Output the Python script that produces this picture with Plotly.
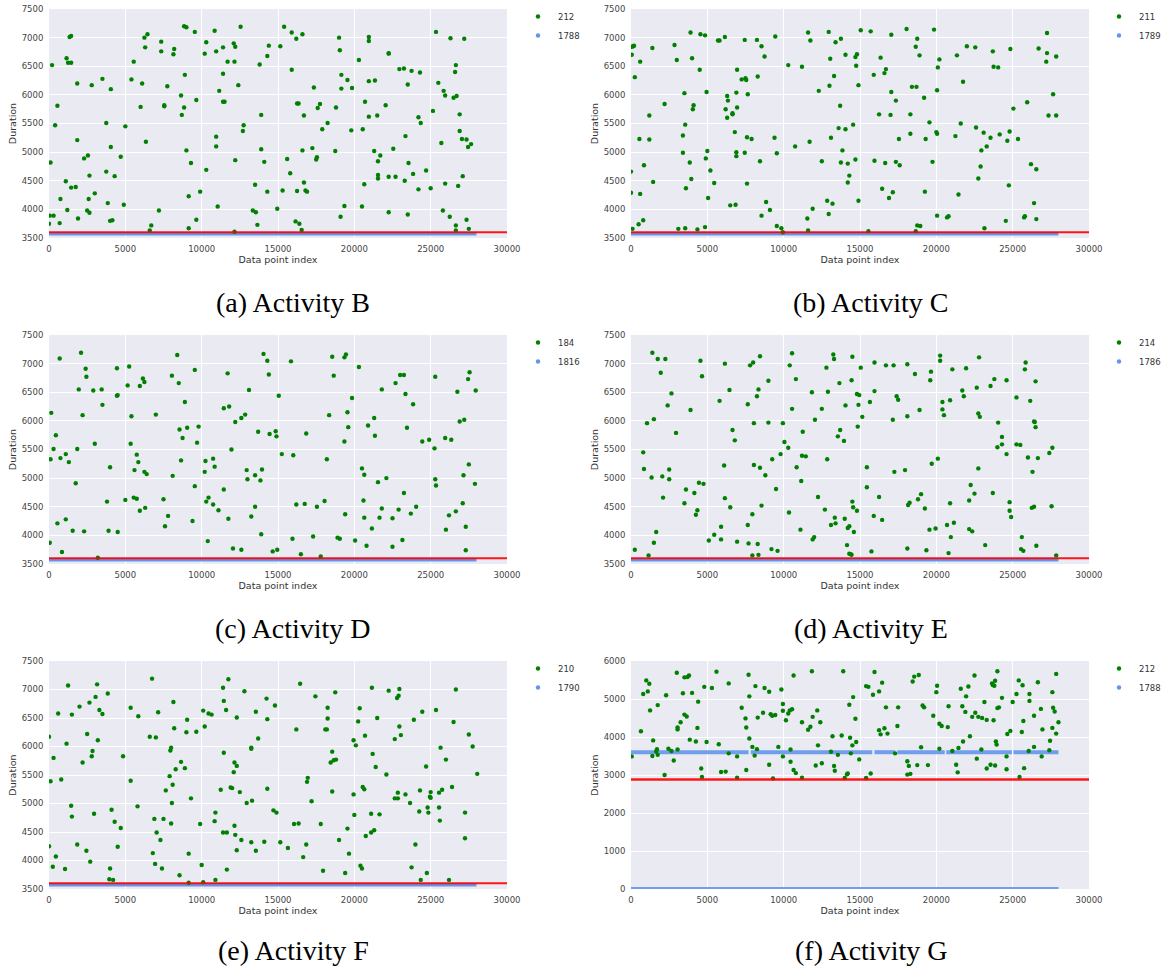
import plotly.graph_objects as go
from plotly.subplots import make_subplots

# ---------------- data ----------------
captions = ["(a) Activity B", "(b) Activity C", "(c) Activity D",
            "(d) Activity E", "(e) Activity F", "(f) Activity G"]
green_counts = ["212", "211", "184", "214", "210", "212"]
blue_counts = ["1788", "1789", "1816", "1786", "1790", "1788"]
threshold = [3600, 3600, 3600, 3600, 3600, 2880]
x_ticks = [0, 5000, 10000, 15000, 20000, 25000, 30000]
y_ticks_main = [3500, 4000, 4500, 5000, 5500, 6000, 6500, 7000, 7500]
y_ticks_g = [0, 1000, 2000, 3000, 4000, 5000, 6000]

# blue (majority) points: they form a continuous band; runs given as start/end index
blue_idx_std = [0, 28000]
blue_dur_std = [3575, 3575]
blue_idx_G = [0, 7700, None, 7850, 15800, None, 15950, 17300, None, 17450, 20550,
              None, 20650, 24950, None, 25050, 28000, None, 0, 28000]
blue_dur_G = [3600, 3600, None, 3600, 3600, None, 3600, 3600, None, 3600, 3600,
              None, 3600, 3600, None, 3600, 3600, None, 0, 0]

B_idx = [0,50,100,200,300,400,550,700,750,1100,
         1150,1200,1250,1350,1450,1450,1450,1750,1850,1850,
         1900,2300,2500,2550,2600,2650,2650,2800,3000,3500,
         3750,3750,3850,4000,4050,4050,4150,4300,4700,4900,
         5000,5400,5550,6000,6100,6250,6300,6350,6450,6600,
         6700,7200,7350,7350,7550,7550,7750,8150,8200,8650,
         8700,8850,8850,9000,8900,9000,9150,9150,9300,9550,
         9650,9650,9900,10200,10300,10300,10850,10950,10950,10950,
         11050,11150,11400,11400,11500,11400,11700,12100,12150,12200,
         12200,12400,12550,12700,12750,13350,13500,13550,13650,13800,
         13900,13900,14100,14300,14300,14400,14950,15150,15300,15400,
         15600,15800,15900,15900,16150,16200,16250,16250,16350,16400,
         16550,16600,16600,16700,16700,16800,16900,17250,17350,17500,
         17550,17600,17750,17900,18250,18750,18800,19000,19050,19100,
         19150,19150,19350,19550,19800,19850,20300,20500,20550,20650,
         20700,20950,20950,20950,20950,21300,21350,21500,21550,21550,
         21550,21700,22050,22250,22250,22250,22250,22550,22700,22950,
         23250,23300,23350,23500,23500,23550,23750,23850,24200,24200,
         24300,24350,24700,25000,25150,25350,25500,25700,25800,25850,
         25950,25950,26250,26300,26500,26600,26650,26650,26650,26700,
         26800,26900,26900,27050,27100,27200,27350,27350,27450,27500,
         27650,12150]
B_dur = [3750,3890,4820,6520,3890,5470,5810,3760,4180,4490,
         6640,3990,6560,7010,7030,6560,4380,4390,6200,5210,
         3840,4890,3980,4940,4180,4590,3940,6170,4280,6280,
         5510,4660,4110,3800,6100,5090,3810,4580,4920,4080,
         5450,6270,6580,5790,6200,7000,6830,5180,7060,3630,
         3720,3980,6930,6760,5820,5800,6150,6710,6800,5990,
         5650,5780,7200,7180,6350,5030,4230,3670,4810,7100,
         3820,5910,4310,6720,6920,4690,7120,6760,5270,5100,
         4050,6070,6370,5880,5880,6830,6580,6900,6580,6840,
         4860,6170,7190,5370,5470,3980,4430,3950,3730,6530,
         5650,5050,4830,4310,6680,6860,4010,6850,4330,7190,
         4880,4630,7090,6440,3790,6980,5850,4320,5850,3750,
         3640,5030,7060,5640,4470,4330,4310,5070,6130,4870,
         4910,5770,5840,5400,5510,5020,5780,7000,6780,3870,
         6350,6110,4060,6260,5380,6120,6610,4050,5400,4440,
         5880,7010,6240,5620,6940,5020,6250,5640,4840,4600,
         4540,4940,5820,4570,3950,6730,6720,5060,4570,6450,
         6460,4500,5280,6180,3910,4810,6420,4620,5610,4350,
         6390,5510,4680,4370,5720,7100,6210,5160,3980,6070,
         5990,4450,3870,6990,5950,6400,3720,3630,6520,5980,
         4410,5660,5370,5230,4580,6980,3820,5220,5090,3660,
         5140,3610]

C_idx = [50,50,150,200,0,0,100,250,500,550,
         600,600,800,850,1200,1200,1400,1450,2200,2850,
         3000,3100,3400,3400,3500,3550,3550,3600,3850,3900,
         3950,4000,4050,4100,4350,4500,4550,4850,4850,4900,
         4950,5000,5050,5200,5450,5700,5800,6150,6200,6300,
         6350,6300,6500,6650,6650,6800,6850,6900,6900,6900,
         6950,6950,7250,7450,7450,7500,7550,7600,7600,7650,
         7900,8250,8300,8450,8550,8550,8750,8850,9100,9450,
         9400,9550,9550,9850,9950,10300,10750,11200,11550,11600,
         11600,11700,11750,11900,12300,12500,12850,12950,12950,13000,
         13050,13100,13200,13300,13400,13600,13700,13750,13750,13850,
         14050,14050,14200,14200,14300,14550,14700,14700,14750,14800,
         14900,14900,15050,15550,15700,15900,15950,16250,16350,16450,
         16600,16650,16700,16900,17000,17050,17050,17150,17350,17350,
         17550,17600,18050,18300,18300,18400,18650,18700,18650,18750,
         18750,18900,18950,19200,19250,19300,19550,19750,19850,20000,
         20050,20050,20050,20100,20200,20700,20800,21250,21350,21450,
         21600,21750,22000,22550,22600,22750,22900,22950,23100,23150,
         23300,23550,23700,23750,24050,24150,24550,24650,24750,24800,
         24850,25050,25350,25750,25800,25950,26200,26400,26550,26550,
         26700,27200,27250,27250,27350,27650,27850,27850]
C_dur = [6840,6700,6850,6860,4660,4290,3660,6310,3740,5230,
         6580,4270,3810,4770,5640,5220,6820,4480,5840,6870,
         6610,3660,5290,4990,6030,5480,3670,4370,4820,7090,
         4530,6640,5750,5820,3650,6440,7060,3690,7040,4890,
         6050,5020,4200,4680,4460,6950,6950,7010,5750,5980,
         5900,5600,4070,5660,5680,5350,4080,6040,5000,4930,
         5780,6440,6270,6960,4990,6290,6260,5260,4450,6010,
         5230,6960,6320,4840,6850,3890,6670,4130,3990,7020,
         5250,4980,3710,3670,3600,6520,5100,6490,3840,3630,
         7090,5180,6950,4010,6070,4840,4150,7100,3920,6160,
         6630,5250,4100,6330,6920,5420,5810,6980,4820,5030,
         6700,5400,4470,4800,4590,5480,6660,4870,6510,6710,
         4150,6170,7130,3620,7110,6350,4850,5660,6650,4360,
         6380,4810,6450,4200,5650,7050,6050,4300,5900,4830,
         5230,4770,7150,5660,5320,6140,6840,6140,3620,6980,
         3720,6690,3710,5950,4310,5230,5520,4830,7140,5350,
         3890,5320,6080,6480,6620,3860,3880,5280,6690,4260,
         5500,6230,6850,6830,5430,4540,4750,5030,5340,3670,
         5100,5250,6760,6490,6480,5310,3800,5200,4420,5360,
         6800,5760,5230,3860,3880,5870,4790,4110,3830,4700,
         6810,6580,6730,7080,5640,6010,6670,5640]

D_idx = [50,100,150,300,450,550,700,750,850,1100,
         1100,1300,1550,1750,1850,1950,2100,2200,2300,2400,
         2450,2900,3000,3200,3450,3500,3800,3900,4000,4450,
         4450,4500,4500,5000,5150,5250,5350,5400,5550,5600,
         5750,5750,5850,5950,5950,6150,6250,6250,6300,6400,
         7000,7500,7600,7800,8050,8100,8400,8500,8550,8650,
         8750,8900,9050,9400,9550,9550,9700,9800,10200,10250,
         10300,10400,10450,10750,10750,10850,11100,11450,11450,11700,
         11750,11800,11950,12050,12200,12600,12600,12850,12950,13000,
         13100,13250,13500,13500,13700,13850,13900,13950,14050,14300,
         14400,14450,14650,14850,14900,14950,15050,15250,15850,15950,
         16000,16200,16500,16750,16850,17300,17550,17800,18050,18200,
         18350,18550,18650,18900,19050,19350,19350,19450,19400,19550,
         19600,19850,20050,20300,20500,20650,20600,20650,20800,20900,
         21150,21300,21350,21550,21650,21800,21800,22100,22500,22500,
         22700,22900,23000,23150,23250,23250,23350,23450,23700,23850,
         24050,24450,24900,25250,25300,25300,25350,25950,26000,26200,
         26350,26650,26750,26900,27100,27150,27200,27300,27300,27450,
         27500,27550,27900,27950]
D_dur = [3870,5330,6140,5510,5750,4210,7090,5350,3710,5420,
         4280,5280,4080,4910,5510,6550,7190,6100,4070,6910,
         6770,6530,5600,3610,6550,6280,4590,4080,5190,6920,
         6440,6450,4060,4620,6620,6950,5600,6080,4660,5140,
         4640,5410,5280,6610,4430,6740,6680,5110,4480,5070,
         6110,4630,4160,4340,6790,5040,7150,6660,5850,5310,
         5700,6330,5880,4250,6890,4860,5620,5900,5110,5300,
         4590,3900,4660,4540,5340,5200,4440,4800,6220,6830,
         4290,6250,5500,3770,5980,6050,3750,6110,5140,4980,
         6540,4330,5050,4500,5810,4960,4020,5150,7170,7050,
         6810,5770,3720,5820,5730,3750,6440,5420,7040,3940,
         5400,4540,3670,4550,5780,3980,4500,3630,4600,5330,
         6100,7120,6790,3960,3940,5640,7110,7160,4370,6150,
         5890,6400,3910,6940,5170,5060,4610,4310,3820,5920,
         4120,6050,5740,4930,4310,6550,4470,5000,4300,3800,
         6660,4450,6800,3920,6800,4740,6470,5880,4380,6290,
         4500,5640,5670,5520,4980,6770,4870,5700,4100,4350,
         5670,4420,6510,5990,4560,5050,6020,4150,3740,6730,
         5240,6850,4900,6530]

E_idx = [250,1150,800,850,1050,1350,1400,1500,1500,1650,
         1750,1950,2050,2100,2250,2400,2500,2500,2650,2950,
         3500,3600,3900,4150,4250,4350,4450,4550,4650,4750,
         5100,5450,5800,5900,5900,6100,6150,6150,6450,6500,
         6650,6800,6950,7650,7650,7700,7800,7950,7950,8000,
         8050,8050,8250,8300,8350,8350,8450,8450,8550,8800,
         9000,9000,9200,9250,9500,9600,9800,9950,10050,10300,
         10350,10400,10550,10550,10800,10850,11150,11100,11200,11250,
         11450,11850,11900,12000,12050,12250,12500,12700,12800,12850,
         12900,13100,13250,13300,13350,13400,13550,13650,13700,13950,
         14000,14050,14150,14200,14300,14300,14400,14450,14450,14500,
         14500,14550,14600,14800,14800,14850,14900,14950,15050,15150,
         15450,15450,15650,15750,15900,15950,15950,16250,16450,16700,
         17150,17200,17250,17400,17500,17950,18100,18100,18100,18150,
         18250,18600,18800,18900,19000,19250,19350,19550,19600,19650,
         19700,19950,20100,20250,20250,20400,20400,20500,20700,20800,
         20900,20900,20950,21050,21150,21700,21800,21950,22150,22150,
         22250,22350,22500,22650,22750,22750,22800,22850,23200,23550,
         23700,23800,24000,24050,24300,24300,24600,24600,24800,24800,
         24900,25250,25250,25500,25600,25550,25700,25800,25850,26000,
         26150,26250,26300,26400,26400,26450,26500,26500,26550,26650,
         27400,27550,27600,27850]
E_dur = [3750,3650,5450,5160,5960,5010,7190,3870,6030,4060,
         7080,6840,5030,4660,7080,6270,5150,4980,6480,5790,
         4560,4800,6190,4740,4360,4440,4920,7050,6780,4900,
         3910,4010,6350,4150,3930,5220,7000,4650,6540,4490,
         5840,5660,3890,6290,4180,3860,6970,3650,4370,7020,
         5230,5960,6430,3850,6550,3660,5180,7130,4520,5050,
         6700,5970,3760,5330,4810,3730,5420,5960,5630,5530,
         4400,6970,7180,6210,6730,5190,4950,4100,5390,5810,
         5380,6500,3930,3970,6020,4670,6210,4450,6930,5330,
         6510,4180,7160,7080,4310,4210,5730,6660,5840,5650,
         4290,6270,3830,4130,4160,3680,3670,6710,3660,7120,
         4590,4490,4060,6470,4430,5900,6280,6450,6930,6070,
         5190,4840,6330,3720,4340,7020,6520,4670,4270,6970,
         6020,6970,5110,6430,6370,5140,6990,3770,6080,4530,
         4570,6820,4630,6190,4720,4470,3740,4100,6710,6860,
         5250,4120,5340,7140,7050,6330,6200,6100,4180,3690,
         6360,4560,3970,6900,4220,6530,6430,6920,4110,4610,
         4880,4070,4730,6580,6130,5170,7110,6070,3830,6610,
         4740,6730,5540,5970,5590,5720,6710,5420,4580,4430,
         4320,6410,5590,5580,3970,3760,3730,6900,7020,5360,
         6350,4480,5110,4500,5990,5980,6690,5890,3820,5350,
         5440,4510,5530,3650]

F_idx = [0,0,100,250,300,450,600,800,1050,1150,
         1250,1450,1500,1500,1850,2000,2200,2450,2500,2650,
         2700,2800,2850,2950,3050,3150,3200,3300,3500,3850,
         3950,4000,4100,4200,4300,4500,4700,4850,5350,5350,
         5800,5850,6600,6750,6800,6900,6950,7000,7050,7150,
         7300,7400,7500,7650,7900,7950,8000,8000,8050,8100,
         8150,8200,8300,8550,8650,8900,9000,9050,9150,9150,
         9300,9650,9900,10000,10100,10100,10200,10450,10650,10850,
         10900,10900,11250,11400,11400,11450,11450,11600,11650,11650,
         11750,11900,12000,12100,12150,12150,12200,12300,12300,12300,
         12500,12600,12800,12950,13250,13250,13250,13300,13550,13550,
         13700,14100,14250,14300,14300,14700,14800,14900,15150,15650,
         16050,16200,16350,16450,16650,16850,16900,16950,17200,17450,
         17800,17950,18100,18200,18250,18250,18450,18550,18550,18650,
         18750,18800,19000,19400,19550,19650,19950,19950,20000,20100,
         20250,20350,20400,20500,20550,20650,20700,20750,21100,21100,
         21150,21200,21300,21400,21500,21650,22100,22250,22650,22650,
         22800,22850,22850,22900,22950,22950,23050,23350,23650,23750,
         23900,24000,24250,24300,24350,24450,24750,24700,24800,24850,
         24950,25000,25000,25350,25550,25550,25600,25650,25750,26000,
         26200,26400,26500,26650,27250,27250,27500,27750,28050]
F_dur = [6170,4250,5390,3890,5800,4070,6580,5420,3850,6050,
         7070,4960,4770,6560,4280,6700,5720,4170,6220,6770,
         3980,5830,5920,4820,6870,7090,6110,6640,6570,6930,
         3670,3860,4890,3660,4680,4240,4570,5830,6680,5400,
         4950,6530,6170,7190,4130,4730,3940,6160,4490,6600,
         4360,3860,4730,5230,5480,5930,5980,4650,5010,5330,
         6780,6320,5600,3740,5730,5620,6250,6470,4120,3610,
         5090,6260,4640,3920,3620,6630,6350,6580,6560,4690,
         4840,3660,5240,4490,7030,5890,6800,6640,4490,3840,
         7180,5280,5270,5550,4610,5720,4450,5660,4180,6510,
         5200,4360,6970,5010,4320,5980,5960,5050,4170,6610,
         6140,4330,6840,6480,5260,4880,6720,4840,4320,4220,
         4640,6300,4650,7100,4060,4280,5380,5450,5040,6880,
         4640,3820,6300,6300,6680,6490,5720,5910,5210,5760,
         6950,5770,4360,3780,4560,4120,6110,5160,4800,6020,
         6440,6670,3910,3860,5290,5250,6190,4430,4490,4820,
         7030,5870,4530,5640,6500,4810,5510,6980,6130,5090,
         6850,5090,5190,6890,6350,7010,6200,5160,5010,3880,
         6470,4280,4860,5230,3660,6610,3780,5650,4930,4840,
         5120,5200,5100,6640,5190,4930,4700,5980,5240,5770,
         3660,5290,6430,7000,4840,4390,6210,6000,5520]

G_idx = [50,650,800,1000,1100,1200,1250,1400,1450,1650,
         1700,1750,1750,2200,2300,2450,2650,2800,3000,3050,
         3050,3050,3250,3400,3500,3500,3650,3700,3800,3850,
         4000,4250,4350,4400,4600,4650,4800,4950,5300,5600,
         5750,5900,6200,6400,6400,6950,6950,7250,7500,7550,
         7550,7700,7750,7750,7950,8100,8150,8250,8300,8650,
         8750,9050,9050,9150,9250,9300,9450,9650,9850,9950,
         9950,9950,10150,10300,10400,10450,10450,10550,10650,10650,
         10800,11200,11200,11600,11750,11850,11900,12100,12200,12250,
         12400,12500,13100,13200,13300,13350,13550,13800,13900,14000,
         14150,14200,14300,14350,14400,14500,14550,14700,14750,14950,
         15400,15400,15550,15700,15850,15950,16250,16250,16350,16450,
         16600,16700,16800,17300,17500,17450,18100,18100,18200,18300,
         18450,18550,18750,18850,19000,19100,19200,19450,19800,20000,
         20050,20200,20200,20350,20750,20800,21050,21300,21400,21450,
         21600,21700,21750,21900,21950,22100,22200,22350,22500,22550,
         22650,22750,22950,23000,23150,23300,23300,23550,23650,23700,
         23750,23800,23850,23850,23900,23950,24000,24000,24100,24300,
         24600,24600,24650,24850,25000,25250,25400,25450,25600,25650,
         25700,25750,26050,26100,26100,26400,26400,26650,26850,26900,
         26950,27400,27450,27600,27600,27650,27750,27850,27850,28000]
G_dur = [3490,4150,5130,5490,5200,5400,4700,3500,3910,3620,
         3680,3530,4840,3000,5100,3690,3630,3380,5690,4250,
         4200,3670,4390,5150,5570,4590,4540,5580,5620,3930,
         5160,3880,4240,4930,3170,2950,5320,3870,5290,5720,
         3810,3080,3090,5410,3570,3490,2930,4770,4490,4250,
         3130,5640,3960,5070,3740,3510,5340,3680,4510,4640,
         5290,3270,5190,4600,4560,2910,4580,3740,5250,3490,
         4690,4870,4440,4620,4700,3670,3350,4730,5620,3130,
         3050,2930,4390,4190,4270,5730,4530,3250,4700,3780,
         4390,3310,3610,4020,3240,3110,3530,4040,5730,2920,
         3020,3040,4850,3980,3570,3780,5050,4480,3870,3410,
         2920,5340,5320,3040,5110,5710,5200,4180,4070,5430,
         4230,4780,4090,3570,4780,4290,3360,3010,3240,3030,
         5460,5590,3260,5630,3730,4830,4780,3260,4560,5180,
         5350,3690,4350,4290,4260,4810,3630,3270,3070,3710,
         5270,4810,3880,4660,5070,5330,4020,4530,5620,4640,
         3430,4530,3670,4500,4920,3170,4450,3270,5410,5370,
         4440,5350,5480,3250,3880,3800,5730,4760,4780,5030,
         3490,3150,4080,4160,4920,5130,5490,2950,4130,5360,
         4420,3180,3630,5130,4950,4560,3740,5440,4740,3490,
         4200,3650,3900,5180,4240,4770,4670,4090,5660,4390]

# ---------------- figure ----------------
W, H = 1165, 973
GREEN = "#008000"
BLUE = "#6495ED"
RED = "#FF0000"
GRID_BG = "#EAEAF2"

green_idx = [B_idx, C_idx, D_idx, E_idx, F_idx, G_idx]
green_dur = [B_dur, C_dur, D_dur, E_dur, F_dur, G_dur]
band_idx = [blue_idx_std] * 5 + [blue_idx_G]
band_dur = [blue_dur_std] * 5 + [blue_dur_G]
for a, b in zip(green_idx, green_dur):
    assert len(a) == len(b), (len(a), len(b))

# page-pixel geometry of the plot areas
col_px = [(49, 507), (631, 1089)]
row_px = [(9, 238), (335, 564), (661, 889)]


def px_x(v):
    return v / W


def px_y(v):
    return 1 - v / H


fig = make_subplots(rows=3, cols=2)

for k in range(6):
    r, c = k // 2 + 1, k % 2 + 1
    leg = "legend" if k == 0 else "legend%d" % (k + 1)
    fig.add_trace(go.Scatter(x=band_idx[k], y=band_dur[k], mode="lines",
                             line=dict(color=BLUE, width=3.5 if k < 5 else 4),
                             opacity=1 if k < 5 else 0.9,
                             showlegend=False, hoverinfo="skip", connectgaps=False),
                  row=r, col=c)
    fig.add_trace(go.Scatter(x=green_idx[k], y=green_dur[k], mode="markers",
                             marker=dict(color=GREEN, size=4.4, line=dict(width=0)),
                             name=green_counts[k], legend=leg),
                  row=r, col=c)
    fig.add_trace(go.Scatter(x=[None], y=[None], mode="markers",
                             marker=dict(color=BLUE, size=4.4, line=dict(width=0)),
                             name=blue_counts[k], legend=leg),
                  row=r, col=c)
    fig.add_hline(y=threshold[k], line=dict(color=RED, width=2 if k < 5 else 2.5),
                  opacity=0.9, row=r, col=c)

tick_font = dict(family="DejaVu Sans", size=8.5, color="#444444")
title_font = dict(family="DejaVu Sans", size=9.5, color="#333333")

layout = dict(width=W, height=H, autosize=False,
              margin=dict(l=0, r=0, t=0, b=0, autoexpand=False),
              paper_bgcolor="white", plot_bgcolor=GRID_BG,
              font=dict(family="DejaVu Sans", color="#333333"),
              annotations=[])

for k in range(6):
    r, c = k // 2, k % 2
    suffix = "" if k == 0 else str(k + 1)
    x0, x1 = col_px[c]
    y0, y1 = row_px[r]
    layout["xaxis" + suffix] = dict(
        domain=[px_x(x0), px_x(x1)], range=[0, 30000],
        tickvals=x_ticks, ticktext=[str(v) for v in x_ticks],
        showgrid=True, gridcolor="white", gridwidth=1, zeroline=False,
        showline=False, ticks="outside", ticklen=3, tickcolor="rgba(0,0,0,0)",
        tickfont=tick_font, automargin=False,
        title=dict(text="Data point index", font=title_font, standoff=3))
    if k < 5:
        yr, yt = [3500, 7500], y_ticks_main
    else:
        yr, yt = [0, 6000], y_ticks_g
    layout["yaxis" + suffix] = dict(
        domain=[px_y(y1), px_y(y0)], range=yr,
        tickvals=yt, ticktext=[str(v) for v in yt],
        showgrid=True, gridcolor="white", gridwidth=1, zeroline=False,
        showline=False, ticks="outside", ticklen=3, tickcolor="rgba(0,0,0,0)",
        tickfont=tick_font, automargin=False,
        title=dict(text="Duration", font=title_font, standoff=3))
    leg = "legend" if k == 0 else "legend%d" % (k + 1)
    leg_font = dict(family="DejaVu Sans", size=8.5, color="#333333")
    leg_y = min(px_y(y0 - 7), 1.0)
    leg_x = [518, 1099][c]
    layout[leg] = dict(x=px_x(leg_x), y=leg_y, xanchor="left", yanchor="top",
                       bgcolor="rgba(0,0,0,0)", borderwidth=0, font=leg_font,
                       tracegroupgap=0, itemsizing="trace")
    cap_x = [293, 871][c]
    cap_y = [302, 628, 950][r]
    layout["annotations"].append(dict(
        text=captions[k], xref="paper", yref="paper", x=px_x(cap_x), y=px_y(cap_y),
        xanchor="center", yanchor="middle", showarrow=False,
        font=dict(family="Liberation Serif", size=28, color="black")))

fig.update_layout(**layout)
# let the figure fill the browser window exactly (no default 8px page margin),
# and keep the interactive toolbar out of the picture
fig.write_html("out.html",
               config={"displayModeBar": False},
               post_script="document.body.style.margin='0';"
                           "document.body.style.overflow='hidden';")
